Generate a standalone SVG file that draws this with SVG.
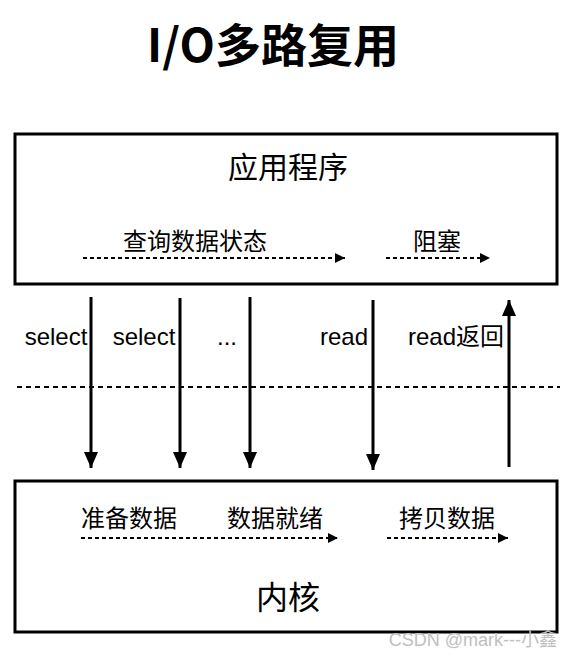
<svg xmlns="http://www.w3.org/2000/svg" width="572" height="656" viewBox="0 0 572 656">
<style>
text{font-family:"Noto Sans CJK SC","Liberation Sans",sans-serif;fill:#000}
.box{fill:#fff;stroke:#000;stroke-width:3}
.lbl{font-size:24px}
.lat{font-family:"Liberation Sans","Noto Sans CJK SC",sans-serif;font-size:24px}
.dot{stroke:#000;stroke-width:2;stroke-dasharray:4 3;fill:none}
.v{stroke:#000;stroke-width:3;fill:none}
</style>
<defs>
<marker id="ah" viewBox="0 0 10 10" refX="10" refY="5" markerWidth="10" markerHeight="10" markerUnits="userSpaceOnUse" orient="auto"><path d="M0,0L10,5L0,10z" fill="#000"/></marker>
<marker id="av" viewBox="0 0 16 14" refX="16" refY="7" markerWidth="16" markerHeight="14" markerUnits="userSpaceOnUse" orient="auto"><path d="M0,0L16,7L0,14z" fill="#000"/></marker>
</defs>
<rect width="572" height="656" fill="#fff"/>
<text x="273" y="62" text-anchor="middle" font-size="46" font-weight="bold">I/O多路复用</text>
<g id="app">
<rect class="box" x="15" y="134" width="542" height="150"/>
<text x="288" y="178" text-anchor="middle" font-size="30">应用程序</text>
<text class="lbl" x="195" y="250" text-anchor="middle">查询数据状态</text>
<text class="lbl" x="437" y="250" text-anchor="middle">阻塞</text>
</g>
<g id="kernel">
<rect class="box" x="15" y="481" width="542" height="151"/>
<text class="lbl" x="129" y="527" text-anchor="middle">准备数据</text>
<text class="lbl" x="275" y="527" text-anchor="middle">数据就绪</text>
<text class="lbl" x="447" y="527" text-anchor="middle">拷贝数据</text>
<text x="288" y="609" text-anchor="middle" font-size="32">内核</text>
</g>
<g id="labels">
<text class="lat" x="56" y="345" text-anchor="middle">select</text>
<text class="lat" x="144" y="345" text-anchor="middle">select</text>
<text class="lat" x="227" y="345" text-anchor="middle">...</text>
<text class="lat" x="344" y="345" text-anchor="middle">read</text>
<text class="lat" x="456" y="345" text-anchor="middle">read返回</text>
</g>
<g id="connectors">
<line class="dot" x1="83" y1="258" x2="345" y2="258" marker-end="url(#ah)"/>
<line class="dot" x1="386" y1="258" x2="490" y2="258" marker-end="url(#ah)"/>
<line class="dot" x1="81" y1="538" x2="338" y2="538" marker-end="url(#ah)"/>
<line class="dot" x1="387" y1="538" x2="508" y2="538" marker-end="url(#ah)"/>
<line x1="17" y1="387" x2="560" y2="387" stroke="#000" stroke-width="2" stroke-dasharray="5 4"/>
<line class="v" x1="91" y1="297" x2="91" y2="468" marker-end="url(#av)"/>
<line class="v" x1="180" y1="298" x2="180" y2="468" marker-end="url(#av)"/>
<line class="v" x1="250" y1="297" x2="250" y2="468" marker-end="url(#av)"/>
<line class="v" x1="373" y1="300" x2="373" y2="470" marker-end="url(#av)"/>
<line class="v" x1="509" y1="467" x2="509" y2="300" marker-end="url(#av)"/>
</g>
<text x="557" y="646" text-anchor="end" font-size="18" style="fill:#c0c0c0;font-family:'Liberation Sans','Noto Sans CJK SC',sans-serif">CSDN @mark---小鑫</text>
</svg>
